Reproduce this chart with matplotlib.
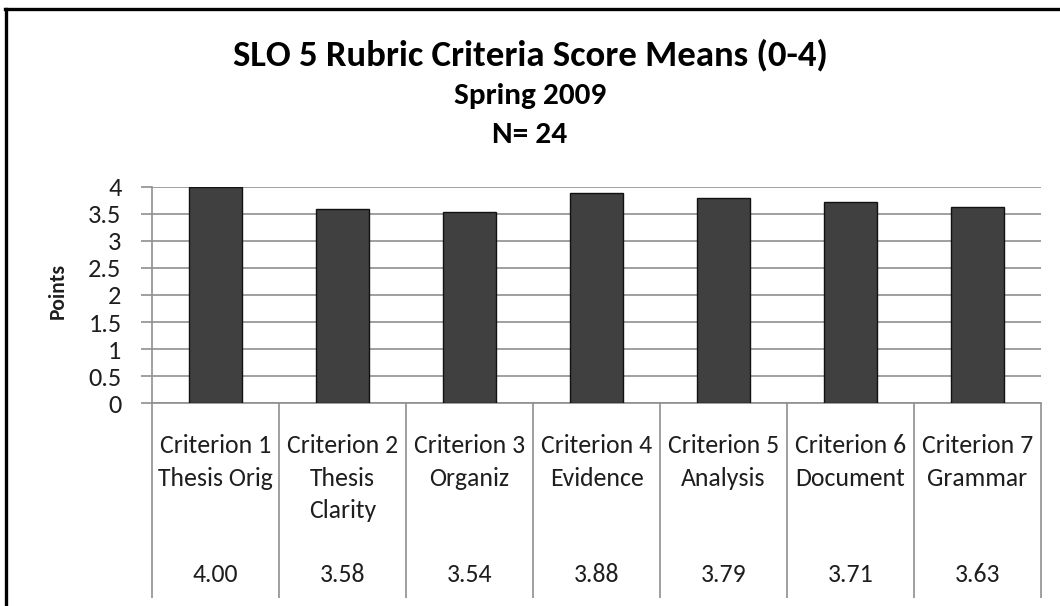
import matplotlib
matplotlib.use("Agg")
import matplotlib.pyplot as plt
from matplotlib.lines import Line2D
import matplotlib.transforms as mtransforms
import warnings
warnings.filterwarnings("ignore")

plt.rcParams['font.family'] = ['Carlito', 'Lato', 'DejaVu Sans']

categories = ["Criterion 1\nThesis Orig", "Criterion 2\nThesis\nClarity", "Criterion 3\nOrganiz",
              "Criterion 4\nEvidence", "Criterion 5\nAnalysis", "Criterion 6\nDocument",
              "Criterion 7\nGrammar"]
values = [4.00, 3.58, 3.54, 3.88, 3.79, 3.71, 3.63]
yticks = [0, 0.5, 1, 1.5, 2, 2.5, 3, 3.5, 4]
ytick_labels = ["0", "0.5", "1", "1.5", "2", "2.5", "3", "3.5", "4"]
title = "SLO 5 Rubric Criteria Score Means (0-4)"
subtitle1 = "Spring 2009"
subtitle2 = "N= 24"
ylabel = "Points"

W, H = 1060, 606
fig = plt.figure(figsize=(W / 100, H / 100), dpi=100)
fig.patch.set_facecolor("white")

def fx(px):
    return px / W

def fy(py):
    return 1 - py / H

ax = fig.add_axes([fx(152), fy(403.3), fx(1041) - fx(152), fy(186.7) - fy(403.3)])
n = len(categories)
xs = list(range(n))
grid_c = "#8f8f8f"
text_c = "#1e1e1e"

ax.bar(xs, values, width=0.41, color="#404040", edgecolor="#111111", linewidth=1.0, zorder=3)
ax.set_xlim(-0.5, n - 0.5)
ax.set_ylim(0, 4)
ax.set_yticks(yticks)
ax.set_yticklabels(ytick_labels)
ax.yaxis.grid(True, color=grid_c, linewidth=1.2, zorder=0)
ax.set_axisbelow(True)
ax.tick_params(axis='y', length=8, width=1.2, color=grid_c, pad=14, labelsize=19, labelcolor=text_c)
ax.tick_params(axis='x', length=0, labelbottom=False)
for s in ["top", "right"]:
    ax.spines[s].set_visible(False)
ax.spines["left"].set_color(grid_c)
ax.spines["left"].set_linewidth(1.2)
ax.spines["bottom"].set_color(grid_c)
ax.spines["bottom"].set_linewidth(1.2)

ax.text(fx(58), fy(291), ylabel, transform=fig.transFigure, rotation=90,
        ha="center", va="center", fontsize=15.5, fontweight="bold", color=text_c)

# data table below the plot
trans = mtransforms.blended_transform_factory(ax.transData, fig.transFigure)
bounds = [i - 0.5 for i in range(n + 1)]
ax.vlines(bounds, fy(598), fy(403.3), transform=trans, colors=grid_c, linewidth=1.2, clip_on=False)
for i, (cat, v) in enumerate(zip(categories, values)):
    for k, line in enumerate(cat.split("\n")):
        ax.text(i, fy(453 + 32.5 * k), line, transform=trans, ha="center", va="baseline",
                fontsize=18.5, color=text_c)
    ax.text(i, fy(582), f"{v:.2f}", transform=trans, ha="center", va="baseline", fontsize=18.5,
            color=text_c)

# titles
fig.text(0.5, fy(65), title, ha="center", va="baseline", fontsize=26.5, fontweight="bold", color="black")
fig.text(0.5, fy(104), subtitle1, ha="center", va="baseline", fontsize=22.5, fontweight="bold", color="black")
fig.text(0.5, fy(143), subtitle2, ha="center", va="baseline", fontsize=22.5, fontweight="bold", color="black")

# frame border (top and left edges)
fig.add_artist(Line2D([fx(5), 1.0], [fy(9), fy(9)], color="black", linewidth=2.4, transform=fig.transFigure))
fig.add_artist(Line2D([fx(6), fx(6)], [fy(9), 0.0], color="black", linewidth=2.4, transform=fig.transFigure))

fig.savefig("out.png", dpi=100, facecolor="white")
